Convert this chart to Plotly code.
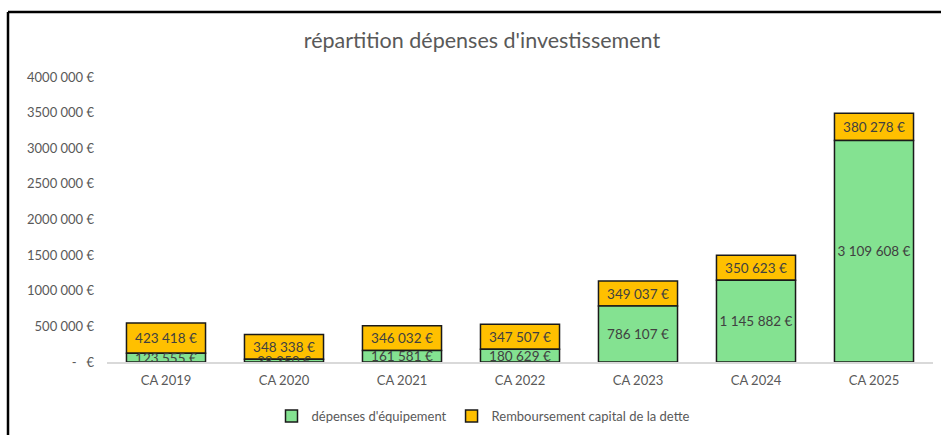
import plotly.graph_objects as go

categories = ["CA 2019", "CA 2020", "CA 2021", "CA 2022", "CA 2023", "CA 2024", "CA 2025"]
equipement = [123555, 38350, 161581, 180629, 786107, 1145882, 3109608]
remboursement = [423418, 348338, 346032, 347507, 349037, 350623, 380278]
ytick_vals = [0, 500000, 1000000, 1500000, 2000000, 2500000, 3000000, 3500000, 4000000]
ytick_text = ["-   €", "500 000 €", "1000 000 €", "1500 000 €", "2000 000 €",
              "2500 000 €", "3000 000 €", "3500 000 €", "4000 000 €"]


def fmt(v):
    return f"{v:,}".replace(",", " ") + " €"


W, H = 941, 435
L, R, T, B = 107, 8, 77, 73
pw, ph = W - L - R, H - T - B


def px_x(p):
    return (p - L) / pw


def px_y(p):
    return (H - B - p) / ph


FONT = "Lato"
fig = go.Figure()
# orange segment drawn first (stacked on top of the green one via base)
fig.add_trace(go.Bar(
    x=categories, y=remboursement, base=equipement, name="Remboursement capital de la dette",
    marker=dict(color="#ffc000", line=dict(color="#1a1a1a", width=1.5)),
    text=[fmt(v) for v in remboursement], textposition="inside",
    insidetextanchor="middle", textangle=0, constraintext="none",
    textfont=dict(size=13.5, color="#404040", family=FONT), legendrank=2,
))
fig.add_trace(go.Bar(
    x=categories, y=equipement, name="dépenses d'équipement",
    marker=dict(color="#84e291", line=dict(color="#1a1a1a", width=1.5)),
    text=[fmt(v) for v in equipement], textposition="inside",
    insidetextanchor="middle", textangle=0, constraintext="none",
    textfont=dict(size=13.5, color="#404040", family=FONT), legendrank=1,
))

fig.update_layout(
    width=W, height=H, autosize=False,
    barmode="overlay", bargap=0.33,
    paper_bgcolor="white", plot_bgcolor="white",
    margin=dict(l=L, r=R, t=T, b=B),
    font=dict(family=FONT, color="#595959", size=13),
    uniformtext=dict(minsize=13, mode="show"),
    title=dict(text="répartition dépenses d'investissement", x=482 / W, xanchor="center",
               y=1 - 40 / H, yanchor="middle", font=dict(size=21.5, color="#595959", family=FONT)),
    xaxis=dict(showgrid=False, showline=True, linecolor="#d9d9d9", linewidth=1.5,
               ticks="", tickfont=dict(size=13, color="#595959"), automargin=False,
               ticklabelstandoff=6),
    yaxis=dict(range=[0, 4000000], showgrid=False, zeroline=False, showline=False,
               tickvals=ytick_vals, ticktext=ytick_text, ticks="", automargin=False,
               tickfont=dict(size=13, color="#595959"), ticklabelstandoff=12),
    legend=dict(orientation="h", x=483 / W, xref="container", xanchor="center",
                y=1 - 416 / H, yref="container", yanchor="middle",
                font=dict(size=13, color="#595959"), itemwidth=30),
    showlegend=True,
    shapes=[
        dict(type="line", xref="paper", yref="paper", x0=px_x(8), x1=px_x(W + 2),
             y0=px_y(12), y1=px_y(12), line=dict(color="#000", width=2.5)),
        dict(type="line", xref="paper", yref="paper", x0=px_x(8), x1=px_x(8),
             y0=px_y(12), y1=px_y(H + 2), line=dict(color="#000", width=2.5)),
    ],
)

fig.write_html("out.html", config={"displayModeBar": False},
               post_script="document.body.style.margin='0';")
